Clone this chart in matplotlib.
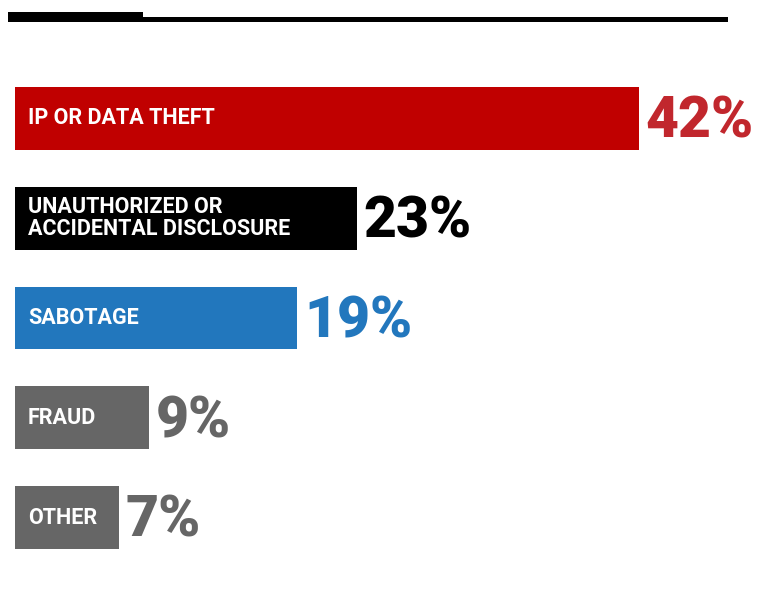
import matplotlib.pyplot as plt
from matplotlib.patches import Rectangle

# share of incidents by type
categories = ['IP OR DATA THEFT', 'UNAUTHORIZED OR\nACCIDENTAL DISCLOSURE', 'SABOTAGE', 'FRAUD', 'OTHER']
values = [42, 23, 19, 9, 7]
bar_colors = ['#c00000', '#000000', '#2277bd', '#666666', '#666666']
pct_colors = ['#c1272d', '#000000', '#2277bd', '#666666', '#666666']

W, H = 770, 591
fig = plt.figure(figsize=(W / 100, H / 100), dpi=100)
ax = fig.add_axes([0, 0, 1, 1])

# pixel scale: 1 % = 14.86 px, bars start at 15 px, rows 99.75 px apart
px_per_pct = 14.86
row_px = 99.75
x0 = -15 / px_per_pct
x1 = (W - 15) / px_per_pct
y_top = -118.5 / row_px
y_bot = (len(values) - 1) + (H - 517.5) / row_px
ax.set_xlim(x0, x1)
ax.set_ylim(y_bot, y_top)
ax.axis('off')

ypos = list(range(len(values)))
ax.barh(ypos, values, height=0.63, color=bar_colors, align='center')

for y, cat, v, c in zip(ypos, categories, values, pct_colors):
    ax.text(0.87, y, cat, color='white', fontsize=15.5, fontweight='semibold',
            family='Roboto', va='center', ha='left', linespacing=1.0)
    ax.text(v + 0.45, y + 0.04, f'{v}%', color=c, fontsize=41, fontweight='heavy',
            family='Roboto', va='center', ha='left')

# header rule: short thick block plus long thin line
fig.add_artist(Rectangle((8 / W, 1 - 22 / H), 135 / W, 10 / H,
                         transform=fig.transFigure, color='black', lw=0))
fig.add_artist(Rectangle((143 / W, 1 - 22 / H), 585 / W, 5 / H,
                         transform=fig.transFigure, color='black', lw=0))

fig.savefig('out.png', dpi=100)
